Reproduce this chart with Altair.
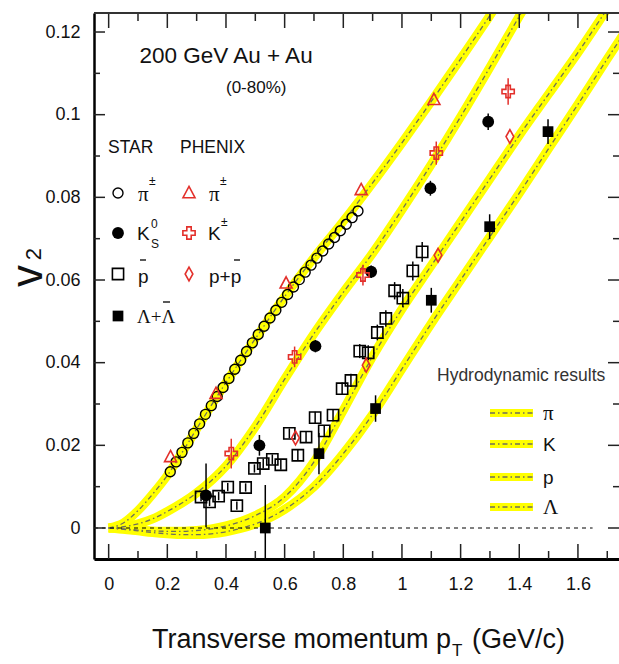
import altair as alt
import pandas as pd

FONT = "Liberation Sans"
SERIF = "Liberation Serif"
RED = "#e3302b"
YELLOW = "#ffff00"

# ---------------- measurements ----------------
# STAR pi+-  (open circles)
star_pi_pt = [0.21, 0.23, 0.25, 0.27, 0.29, 0.31, 0.33, 0.35, 0.37, 0.39, 0.41,
              0.43, 0.45, 0.47, 0.49, 0.51, 0.53, 0.55, 0.57, 0.59, 0.61, 0.63,
              0.65, 0.67, 0.69, 0.71, 0.73, 0.75, 0.77, 0.79, 0.81, 0.83, 0.85]
star_pi_v2 = [0.0136, 0.0160, 0.0183, 0.0206, 0.0229, 0.0252, 0.0275, 0.0296,
              0.0318, 0.0340, 0.0362, 0.0384, 0.0406, 0.0427, 0.0448, 0.0468,
              0.0488, 0.0508, 0.0527, 0.0546, 0.0565, 0.0583, 0.0601, 0.0619,
              0.0636, 0.0653, 0.0670, 0.0687, 0.0703, 0.0719, 0.0735, 0.0751,
              0.0767]

# STAR K0S (filled circles)
star_k0s_pt = [0.332, 0.514, 0.705, 0.895, 1.097, 1.294]
star_k0s_v2 = [0.0079, 0.0200, 0.0440, 0.0620, 0.0822, 0.0983]
star_k0s_err = [0.0077, 0.0025, 0.0015, 0.0015, 0.0018, 0.0020]

# STAR anti-proton (open squares)
star_pbar_pt = [0.315, 0.344, 0.375, 0.406, 0.437, 0.467, 0.497, 0.527, 0.558,
                0.587, 0.616, 0.645, 0.673, 0.704, 0.735, 0.765, 0.796, 0.826,
                0.856, 0.885, 0.916, 0.945, 0.975, 1.003, 1.037, 1.069]
star_pbar_v2 = [0.0075, 0.0063, 0.0077, 0.0099, 0.0054, 0.0098, 0.0144, 0.0156,
                0.0166, 0.0153, 0.0229, 0.0176, 0.0220, 0.0267, 0.0235, 0.0273,
                0.0337, 0.0357, 0.0428, 0.0424, 0.0473, 0.0507, 0.0574, 0.0556,
                0.0622, 0.0668]
star_pbar_err = [0.0010, 0.0010, 0.0010, 0.0010, 0.0010, 0.0010, 0.0010, 0.0012,
                 0.0012, 0.0012, 0.0012, 0.0013, 0.0013, 0.0014, 0.0014, 0.0015,
                 0.0015, 0.0016, 0.0017, 0.0018, 0.0019, 0.0020, 0.0021, 0.0022,
                 0.0023, 0.0024]

# STAR Lambda + anti-Lambda (filled squares)
star_lam_pt = [0.534, 0.717, 0.910, 1.100, 1.299, 1.498]
star_lam_v2 = [0.0000, 0.0180, 0.0289, 0.0551, 0.0729, 0.0959]
star_lam_err = [0.0104, 0.0050, 0.0032, 0.0030, 0.0030, 0.0030]

# PHENIX pi+- (open triangles)
phenix_pi_pt = [0.211, 0.366, 0.605, 0.861, 1.109]
phenix_pi_v2 = [0.0172, 0.0325, 0.0592, 0.0818, 0.1036]

# PHENIX K+- (open crosses)
phenix_k_pt = [0.418, 0.634, 0.867, 1.117, 1.362]
phenix_k_v2 = [0.0180, 0.0414, 0.0612, 0.0907, 0.1056]
phenix_k_err = [0.0036, 0.0025, 0.0025, 0.0028, 0.0032]

# PHENIX p + pbar (open diamonds)
phenix_p_pt = [0.637, 0.878, 1.123, 1.368]
phenix_p_v2 = [0.0218, 0.0394, 0.0660, 0.0947]

# ---------------- hydrodynamic curves ----------------
hydro_pi_pt = [0, 0.05, 0.1, 0.15, 0.2, 0.25, 0.3, 0.4, 0.5, 0.6, 0.7, 0.8, 0.9,
               1.0, 1.1, 1.2, 1.3, 1.36]
hydro_pi_v2 = [0, 0.0012, 0.0042, 0.0082, 0.0127, 0.0182, 0.0240, 0.0352, 0.0458,
               0.0560, 0.0654, 0.0742, 0.0835, 0.0932, 0.1032, 0.1135, 0.1240,
               0.1305]
hydro_k_pt = [0, 0.05, 0.1, 0.15, 0.2, 0.3, 0.4, 0.5, 0.6, 0.7, 0.8, 0.9, 1.0,
              1.1, 1.2, 1.3, 1.4, 1.46]
hydro_k_v2 = [0, 0.0003, 0.0010, 0.0022, 0.0040, 0.0085, 0.0150, 0.0245, 0.0360,
              0.0470, 0.0570, 0.0665, 0.0770, 0.0880, 0.0995, 0.1115, 0.1238,
              0.1310]
hydro_p_pt = [0, 0.05, 0.1, 0.15, 0.2, 0.25, 0.3, 0.35, 0.4, 0.5, 0.6, 0.7, 0.8,
              0.9, 1.0, 1.1, 1.2, 1.3, 1.4, 1.5, 1.6, 1.7, 1.76]
hydro_p_v2 = [0, -0.0002, -0.0005, -0.0007, -0.0008, -0.0008, -0.0006, -0.0002,
              0.0005, 0.0030, 0.0075, 0.0160, 0.0285, 0.0415, 0.0530, 0.0635,
              0.0740, 0.0845, 0.0950, 0.1050, 0.1150, 0.1256, 0.1320]
hydro_lam_pt = [0, 0.05, 0.1, 0.15, 0.2, 0.25, 0.3, 0.35, 0.4, 0.45, 0.5, 0.6,
                0.7, 0.8, 0.9, 1.0, 1.1, 1.2, 1.3, 1.4, 1.5, 1.6, 1.7, 1.76]
hydro_lam_v2 = [0, -0.0003, -0.0007, -0.0011, -0.0014, -0.0016, -0.0016, -0.0014,
                -0.0009, -0.0001, 0.0010, 0.0045, 0.0100, 0.0180, 0.0275, 0.0385,
                0.0495, 0.0600, 0.0705, 0.0810, 0.0918, 0.1025, 0.1135, 0.1200]

# axis ticks
x_major = [0, 0.2, 0.4, 0.6, 0.8, 1.0, 1.2, 1.4, 1.6]
x_minor = [0.1, 0.3, 0.5, 0.7, 0.9, 1.1, 1.3, 1.5, 1.7]
y_major = [0, 0.02, 0.04, 0.06, 0.08, 0.1, 0.12]
y_minor = [0.01, 0.03, 0.05, 0.07, 0.09, 0.11]

# ---------------- layout ----------------
OX, OY = 94, 13          # plot-area origin in the page
W, H = 525, 546

xs = alt.Scale(domain=[-0.05, 1.74], nice=False, zero=False)
ys = alt.Scale(domain=[-0.0075, 0.1246], nice=False, zero=False)
x_axis = alt.Axis(values=x_major, title=None, grid=False, ticks=False,
                  format="~g", labelFont=FONT, labelFontSize=18,
                  labelColor="#111", labelPadding=16, domainColor="black",
                  domainWidth=3, labelFlush=False, labelOverlap=False)
y_axis = alt.Axis(values=y_major, title=None, grid=False, ticks=False,
                  format="~g", labelFont=FONT, labelFontSize=18,
                  labelColor="#111", labelPadding=14, domainColor="black",
                  domainWidth=2.5, labelFlush=False, labelOverlap=False)


def X(f):
    return alt.X(f, type="quantitative", scale=xs, axis=x_axis)


def Y(f):
    return alt.Y(f, type="quantitative", scale=ys, axis=y_axis)


def frame(pt, v2, err=None):
    d = pd.DataFrame({"pt": pt, "v2": v2})
    if err is not None:
        d["lo"] = [v - e for v, e in zip(v2, err)]
        d["hi"] = [v + e for v, e in zip(v2, err)]
    return d


ONE = pd.DataFrame({"a": [0]})

# marker outlines
TRI = "M0,-1L0.92,0.72L-0.92,0.72Z"
DIAM = "M0,-1L0.56,0L0,1L-0.56,0Z"
CROSS = ("M-0.36,-1L0.36,-1L0.36,-0.36L1,-0.36L1,0.36L0.36,0.36L0.36,1"
         "L-0.36,1L-0.36,0.36L-1,0.36L-1,-0.36L-0.36,-0.36Z")

layers = []

# hydro bands
curves = pd.concat([
    frame(hydro_pi_pt, hydro_pi_v2).assign(sp="pi"),
    frame(hydro_k_pt, hydro_k_v2).assign(sp="K"),
    frame(hydro_p_pt, hydro_p_v2).assign(sp="p"),
    frame(hydro_lam_pt, hydro_lam_v2).assign(sp="Lambda"),
])
base_c = alt.Chart(curves).encode(x=X("pt"), y=Y("v2"), detail="sp:N")
layers.append(base_c.mark_line(clip=True, color=YELLOW, strokeWidth=9,
                               interpolate="monotone"))
layers.append(base_c.mark_line(clip=True, color="#6f6f5a", strokeWidth=1.3,
                               strokeDash=[5, 3, 1.5, 3], interpolate="monotone"))

# zero reference line
zero = pd.DataFrame({"pt": [-0.05, 1.65], "v2": [0, 0]})
layers.append(alt.Chart(zero).mark_line(color="black", strokeWidth=1,
                                        strokeDash=[4, 4])
              .encode(x=X("pt"), y=Y("v2")))


# ticks (pointing inward on all sides)
def tick_layer(vals, axis, length):
    d = pd.DataFrame({"t": vals})
    c = alt.Chart(d).mark_rule(color="#222", strokeWidth=1.5)
    if axis == "bottom":
        return c.encode(x=X("t"), y=alt.value(H), y2=alt.value(H - length))
    if axis == "top":
        return c.encode(x=X("t"), y=alt.value(0), y2=alt.value(length))
    if axis == "left":
        return c.encode(y=Y("t"), x=alt.value(0), x2=alt.value(length))
    return c.encode(y=Y("t"), x=alt.value(W), x2=alt.value(W - length))


layers += [tick_layer(x_major, "bottom", 15), tick_layer(x_minor, "bottom", 8),
           tick_layer(x_major, "top", 15), tick_layer(x_minor, "top", 8),
           tick_layer(y_major, "left", 11), tick_layer(y_minor, "left", 6),
           tick_layer(y_major, "right", 11), tick_layer(y_minor, "right", 6)]

# top frame line
layers.append(alt.Chart(ONE).mark_rule(color="#333", strokeWidth=2)
              .encode(x=alt.value(0), x2=alt.value(W), y=alt.value(0)))


# error bars
def err_layer(d, color="black"):
    return alt.Chart(d).mark_rule(color=color, strokeWidth=1.5, clip=True).encode(
        x=X("pt"), y=Y("lo"), y2=alt.Y2("hi"))


d_k0s = frame(star_k0s_pt, star_k0s_v2, star_k0s_err)
d_pbar = frame(star_pbar_pt, star_pbar_v2, star_pbar_err)
d_lam = frame(star_lam_pt, star_lam_v2, star_lam_err)
d_phk = frame(phenix_k_pt, phenix_k_v2, phenix_k_err)
layers += [err_layer(d_pbar), err_layer(d_k0s), err_layer(d_lam),
           err_layer(d_phk, RED)]


# markers
def pts(d, **kw):
    return alt.Chart(d).mark_point(clip=True, **kw).encode(x=X("pt"), y=Y("v2"))


layers += [
    pts(frame(star_pi_pt, star_pi_v2), shape="circle", filled=False,
        color="black", strokeWidth=1.4, size=100, opacity=1),
    pts(d_pbar, shape="square", filled=False, color="black", strokeWidth=1.6,
        size=125, opacity=1),
    pts(d_k0s, shape="circle", filled=True, color="black", size=140, opacity=1),
    pts(d_lam, shape="square", filled=True, color="black", size=115, opacity=1),
    pts(frame(phenix_pi_pt, phenix_pi_v2), shape=TRI, filled=False, color=RED,
        strokeWidth=1.6, size=170, opacity=1),
    pts(d_phk, shape=CROSS, filled=False, color=RED, strokeWidth=1.6, size=150,
        opacity=1),
    pts(frame(phenix_p_pt, phenix_p_v2), shape=DIAM, filled=False, color=RED,
        strokeWidth=1.6, size=190, opacity=1),
]


# ---------------- text and legends (page coordinates) ----------------
def txt(s, x, y, size=18, font=FONT, align="left", baseline="middle",
        color="#111", angle=None, weight=None):
    kw = dict(text=s, font=font, fontSize=size, align=align, baseline=baseline,
              color=color)
    if angle is not None:
        kw["angle"] = angle
    if weight is not None:
        kw["fontWeight"] = weight
    return alt.Chart(ONE).mark_text(**kw).encode(x=alt.value(x - OX),
                                                 y=alt.value(y - OY))


def sym(x, y, **kw):
    return alt.Chart(ONE).mark_point(opacity=1, **kw).encode(
        x=alt.value(x - OX), y=alt.value(y - OY))


def bar(x1, x2, y, color="black", w=1.3):
    return alt.Chart(ONE).mark_rule(color=color, strokeWidth=w).encode(
        x=alt.value(x1 - OX), x2=alt.value(x2 - OX), y=alt.value(y - OY))


layers += [
    txt("200 GeV Au + Au", 226, 63, size=22.5, align="center", baseline="alphabetic"),
    txt("(0-80%)", 226, 88, size=17),
    txt("STAR", 108, 148, size=17.5),
    txt("PHENIX", 180, 148, size=17.5),
    # STAR column
    sym(118, 193, shape="circle", filled=False, color="black", strokeWidth=1.4, size=100),
    txt("\u03c0", 138, 195, size=21, font=SERIF),
    txt("\u00b1", 149, 181, size=12),
    sym(118, 233, shape="circle", filled=True, color="black", size=140),
    txt("K", 137, 234, size=19),
    txt("0", 151, 224, size=12),
    txt("S", 151, 244, size=12),
    sym(118, 274, shape="square", filled=False, color="black", strokeWidth=1.6, size=125),
    txt("p", 138, 277, size=19),
    bar(140, 146, 260),
    sym(118, 316, shape="square", filled=True, color="black", size=115),
    txt("\u039b+\u039b", 137, 317, size=19, font=SERIF),
    bar(163, 170, 302),
    # PHENIX column
    sym(189, 193, shape=TRI, filled=False, color=RED, strokeWidth=1.6, size=170),
    txt("\u03c0", 209, 195, size=21, font=SERIF),
    txt("\u00b1", 220, 181, size=12),
    sym(189, 233, shape=CROSS, filled=False, color=RED, strokeWidth=1.6, size=150),
    txt("K", 208, 234, size=19),
    txt("\u00b1", 221, 222, size=12),
    sym(189, 274, shape=DIAM, filled=False, color=RED, strokeWidth=1.6, size=190),
    txt("p+p", 209, 277, size=19),
    bar(234, 240, 260),
    # hydro legend
    txt("Hydrodynamic results", 437, 376, size=17.5, color="#333"),
]
for lab, yy in zip(["\u03c0", "K", "p", "\u039b"], [413, 444, 477, 507]):
    layers.append(bar(490, 533, yy, color=YELLOW, w=8))
    layers.append(alt.Chart(ONE).mark_rule(color="#6f6f5a", strokeWidth=1.3,
                                           strokeDash=[5, 3, 1.5, 3]).encode(
        x=alt.value(490 - OX), x2=alt.value(533 - OX), y=alt.value(yy - OY)))
    is_greek = lab in ("\u03c0", "\u039b")
    layers.append(txt(lab, 543, yy + 1, size=21 if is_greek else 19,
                      font=SERIF if is_greek else FONT))

# axis titles
layers += [
    txt("Transverse momentum p", 152, 648, size=27, baseline="alphabetic"),
    txt("T", 452, 656, size=17, baseline="alphabetic"),
    txt("(GeV/c)", 565, 648, size=27, align="right", baseline="alphabetic"),
    txt("v", 42, 276, size=44, angle=270, align="center", baseline="alphabetic"),
    txt("2", 41, 254, size=22, angle=270, align="center", baseline="alphabetic"),
]

chart = alt.layer(*layers).properties(
    width=W, height=H,
    padding={"left": OX, "top": OY, "right": 0, "bottom": 664 - OY - H},
    autosize=alt.AutoSizeParams(type="none"),
).configure_view(stroke=None).configure(background="white")

chart.save("out.html", embed_options={"renderer": "svg", "actions": False})
